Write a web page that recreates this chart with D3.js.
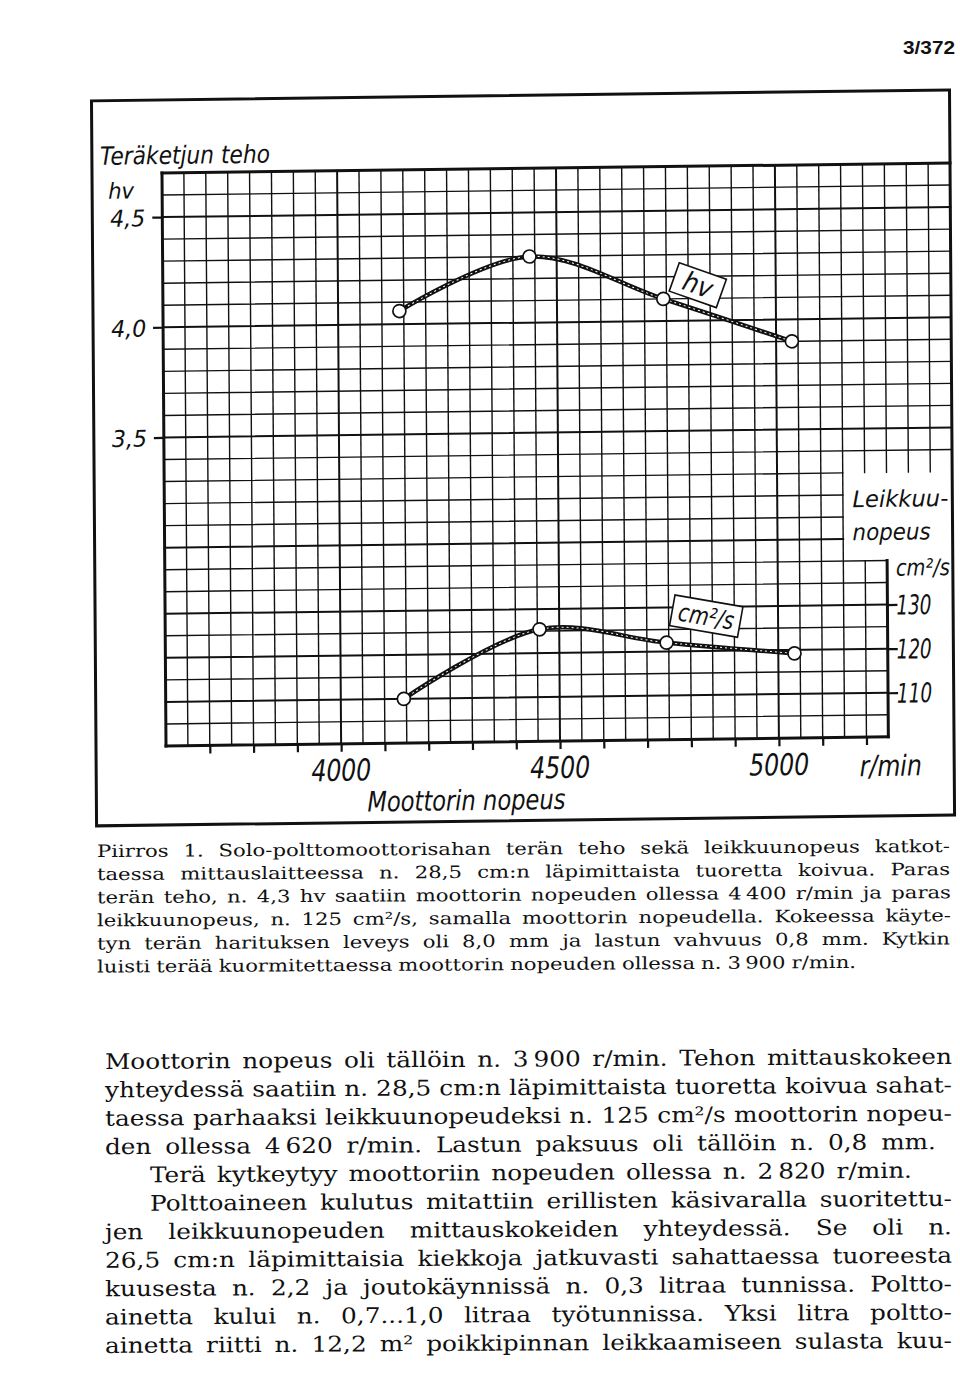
<!DOCTYPE html>
<html><head><meta charset="utf-8">
<script src="https://cdn.jsdelivr.net/npm/d3@7/dist/d3.min.js"></script>
<style>html,body{margin:0;padding:0;background:#fff}svg{display:block}</style>
</head><body>
<svg id="page" width="960" height="1395" viewBox="0 0 960 1395"></svg>
<script>
// ---------------- data ----------------
const rpmHv = [4140, 4438, 4743, 5036];
const hvValues = [4.06, 4.30, 4.10, 3.90];
const rpmCut = [4144, 4455, 4745, 5037];
const cutValues = [110, 125.4, 122, 119.2];
const rpmTicks = [3700, 3800, 3900, 4000, 4100, 4200, 4300, 4400, 4500, 4600, 4700, 4800, 4900, 5000, 5100, 5200];
const rpmLabelValues = [4000, 4500, 5000];
const rpmLabelTexts = ["4000", "4500", "5000"];
const hvTicks = [3.5, 4.0, 4.5];
const hvTickLabels = ["3,5", "4,0", "4,5"];
const cutTicks = [110, 120, 130];
const cutTickLabels = ["110", "120", "130"];
const pageNumber = "3/372";
const captionLines = [
  "Piirros 1. Solo-polttomoottorisahan terän teho sekä leikkuunopeus katkot-",
  "taessa mittauslaitteessa n. 28,5 cm:n läpimittaista tuoretta koivua. Paras",
  "terän teho, n. 4,3 hv saatiin moottorin nopeuden ollessa 4\u2009400 r/min ja paras",
  "leikkuunopeus, n. 125 cm²/s, samalla moottorin nopeudella. Kokeessa käyte-",
  "tyn terän harituksen leveys oli 8,0 mm ja lastun vahvuus 0,8 mm. Kytkin",
  "luisti terää kuormitettaessa moottorin nopeuden ollessa n. 3\u2009900 r/min."
];
const bodyLines = [
  "Moottorin nopeus oli tällöin n. 3\u2009900 r/min. Tehon mittauskokeen",
  "yhteydessä saatiin n. 28,5 cm:n läpimittaista tuoretta koivua sahat-",
  "taessa parhaaksi leikkuunopeudeksi n. 125 cm²/s moottorin nopeu-",
  "den ollessa 4\u2009620 r/min. Lastun paksuus oli tällöin n. 0,8 mm.",
  "Terä kytkeytyy moottoriin nopeuden ollessa n. 2\u2009820 r/min.",
  "Polttoaineen kulutus mitattiin erillisten käsivaralla suoritettu-",
  "jen leikkuunopeuden mittauskokeiden yhteydessä. Se oli n.",
  "26,5 cm:n läpimittaisia kiekkoja jatkuvasti sahattaessa tuoreesta",
  "kuusesta n. 2,2 ja joutokäynnissä n. 0,3 litraa tunnissa. Poltto-",
  "ainetta kului n. 0,7...1,0 litraa työtunnissa. Yksi litra poltto-",
  "ainetta riitti n. 12,2 m² poikkipinnan leikkaamiseen sulasta kuu-"
];

// ---------------- layout ----------------
const svg = d3.select("#page");
svg.append("rect").attr("width", 960).attr("height", 1395).attr("fill", "#fff");

const LETTER = "'DejaVu Sans', 'Liberation Sans', sans-serif";
const INK = "#111";

const x = d3.scaleLinear().domain([3600, 5400]).range([162, 950]);
const yHv = d3.scaleLinear().domain([2.1, 4.7]).range([746, 173]);
const yCut = d3.scaleLinear().domain([100, 230]).range([746, 173]);

const chart = svg.append("g")
  .attr("transform", "translate(162,173) matrix(1,-0.0127,0.007,1,0,0) translate(-162,-173)");

// outer frame
chart.append("rect").attr("x", 92).attr("y", 100).attr("width", 858).attr("height", 725)
  .attr("fill", "none").attr("stroke", INK).attr("stroke-width", 3);

// grid
const grid = chart.append("g").attr("stroke", INK).attr("stroke-linecap", "square");
const cols = d3.range(3650, 5400, 50);
cols.forEach(r => {
  const major = r % 500 === 0;
  const segs = [];
  if (r <= 5150) segs.push([2.1, 4.7]);
  else if (r < 5250) { segs.push([3.3, 4.7]); segs.push([2.1, 2.9]); }
  else segs.push([3.3, 4.7]);
  segs.forEach(s => grid.append("line")
    .attr("x1", x(r)).attr("x2", x(r)).attr("y1", yHv(s[0])).attr("y2", yHv(s[1]))
    .attr("stroke-width", major ? 2 : 1.4));
});
d3.range(22, 47).forEach(i => {
  const hv = i / 10;
  const major = i % 5 === 0 || i === 23 || i === 27;
  let end = 5400;
  if (i <= 29) end = 5250; else if (i <= 33) end = 5150;
  grid.append("line").attr("x1", x(3600)).attr("x2", x(end)).attr("y1", yHv(hv)).attr("y2", yHv(hv))
    .attr("stroke-width", major ? 2 : 1.4);
});
// grid borders
const border = chart.append("g").attr("stroke", INK).attr("stroke-width", 3).attr("stroke-linecap", "square");
border.append("line").attr("x1", x(3600)).attr("x2", x(3600)).attr("y1", yHv(2.1)).attr("y2", yHv(4.7));
border.append("line").attr("x1", x(3600)).attr("x2", x(5400)).attr("y1", yHv(4.7)).attr("y2", yHv(4.7));
border.append("line").attr("x1", x(3600)).attr("x2", x(5250)).attr("y1", yHv(2.1)).attr("y2", yHv(2.1));
border.append("line").attr("x1", x(5250)).attr("x2", x(5250)).attr("y1", yHv(2.1)).attr("y2", yHv(2.9));

// axes (ticks)
function styleAxis(g) {
  g.select(".domain").remove();
  g.selectAll(".tick line").attr("stroke", INK).attr("stroke-width", 2.2);
  g.selectAll(".tick text").remove();
}
chart.append("g").attr("transform", `translate(0,${yHv(2.1)})`)
  .call(d3.axisBottom(x).tickValues(rpmTicks).tickSize(8).tickFormat("")).call(styleAxis);
chart.append("g").attr("transform", `translate(${x(3600)},0)`)
  .call(d3.axisLeft(yHv).tickValues(hvTicks).tickSize(10).tickFormat("")).call(styleAxis);
chart.append("g").attr("transform", `translate(${x(5250)},0)`)
  .call(d3.axisRight(yCut).tickValues(cutTicks).tickSize(10).tickFormat("")).call(styleAxis);

// lettering helper
function letter(g, txt, px, py, size, len, anchor) {
  const t = g.append("text").attr("x", px).attr("y", py)
    .attr("font-family", LETTER).attr("font-style", "italic").attr("font-size", size)
    .attr("fill", INK).attr("text-anchor", anchor || "start").text(txt);
  if (len) t.attr("textLength", len).attr("lengthAdjust", "spacingAndGlyphs");
  return t;
}
letter(chart, "Teräketjun teho", 100, 164, 25, 170);
letter(chart, "hv", 108, 198, 22, 26);
hvTicks.forEach((v, i) => letter(chart, hvTickLabels[i], x(3600) - 17, yHv(v) + 9, 23, 35, "end"));
rpmLabelValues.forEach((v, i) => letter(chart, rpmLabelTexts[i], x(v), yHv(2.1) + 37, 30, 60, "middle"));
letter(chart, "r/min", x(5255), yHv(2.1) + 39, 29, 62, "middle");
letter(chart, "Moottorin nopeus", 462, 814, 28, 198, "middle");
letter(chart, "Leikkuu-", 850, 516, 23, 96);
letter(chart, "nopeus", 850, 549, 23, 78);
letter(chart, "cm²/s", 893, 585, 23, 54);
cutTicks.forEach((v, i) => letter(chart, cutTickLabels[i], x(5250) + 9, yCut(v) + 10, 27, 35));

// curves
function drawCurve(xs, ys, yScale) {
  const pts = xs.map((d, i) => [x(d), yScale(ys[i])]);
  const line = d3.line().curve(d3.curveCatmullRom.alpha(0.5));
  chart.append("path").attr("d", line(pts)).attr("fill", "none").attr("stroke", INK).attr("stroke-width", 4.5);
  chart.append("path").attr("d", line(pts)).attr("fill", "none").attr("stroke", "#fff")
    .attr("stroke-width", 1).attr("stroke-dasharray", "2,3");
  chart.append("g").selectAll("circle").data(pts).join("circle")
    .attr("cx", d => d[0]).attr("cy", d => d[1]).attr("r", 6.5)
    .attr("fill", "#fff").attr("stroke", INK).attr("stroke-width", 1.7);
}
drawCurve(rpmHv, hvValues, yHv);
drawCurve(rpmCut, cutValues, yCut);

// in-plot label boxes
function tagBox(cx, cy, w, h, angle) {
  const g = chart.append("g").attr("transform", `translate(${cx},${cy}) rotate(${angle})`);
  g.append("rect").attr("x", -w / 2).attr("y", -h / 2).attr("width", w).attr("height", h)
    .attr("fill", "#fff").attr("stroke", INK).attr("stroke-width", 1.6);
  return g;
}
const hvBox = tagBox(x(4822), yHv(4.16), 50, 30, 20);
letter(hvBox, "hv", 0, 9, 27, 30, "middle");
const cmBox = tagBox(x(4836), yCut(127.9), 69, 31, 10.5);
letter(cmBox, "cm²/s", 0, 9, 25, 56, "middle");

// page number
svg.append("text").attr("x", 955).attr("y", 54).attr("text-anchor", "end")
  .attr("font-family", "'Liberation Sans', Arial, sans-serif").attr("font-size", 19)
  .attr("font-weight", 600).attr("textLength", 52).attr("lengthAdjust", "spacingAndGlyphs")
  .attr("fill", INK).text(pageNumber);

// justified text blocks: glyphs widened by one common factor, limited so that the
// tightest line still keeps a minimum word gap; then word gaps are spread out.
function block(lines, opts) {
  const g = svg.append("g").attr("transform", opts.transform || null);
  const rows = lines.map((line, i) => {
    const words = line.split(" ");
    const texts = words.map(w => g.append("text").attr("y", opts.y0 + i * opts.lh)
      .attr("font-family", opts.family).attr("font-size", opts.size).attr("fill", INK).text(w));
    const widths = texts.map(t => t.node().getComputedTextLength());
    return { words, texts, widths };
  });
  let factor = opts.maxFactor;
  rows.forEach((r, i) => {
    const avail = opts.ends[i] - opts.starts[i] - (r.words.length - 1) * opts.minGap;
    factor = Math.min(factor, avail / d3.sum(r.widths));
  });
  rows.forEach((r, i) => {
    const widths = r.widths.map(w => w * factor);
    r.texts.forEach((t, k) => t.attr("textLength", widths[k]).attr("lengthAdjust", "spacingAndGlyphs"));
    const sum = d3.sum(widths);
    const xs = opts.starts[i], xe = opts.ends[i];
    const gap = r.words.length > 1 ? (xe - xs - sum) / (r.words.length - 1) : 0;
    let cx = xs;
    r.texts.forEach((t, k) => { t.attr("x", cx); cx += widths[k] + gap; });
  });
}
block(captionLines, {
  y0: 857, lh: 23.1, size: 17, family: "'DejaVu Serif', serif", minGap: 6, maxFactor: 1.25,
  starts: [97, 97, 97, 97, 97, 97], ends: [950, 950, 951, 951, 950, 856],
  transform: "translate(0,0.6) matrix(1,-0.006,0,1,0,0)"
});
block(bodyLines, {
  y0: 1069, lh: 28.4, size: 21.5, family: "'DejaVu Serif', serif", minGap: 8, maxFactor: 1.25,
  starts: [105, 105, 105, 105, 150, 150, 105, 105, 105, 105, 105],
  ends: [952, 952, 952, 936, 912, 952, 952, 952, 952, 952, 952],
  transform: "translate(0,0.6) matrix(1,-0.006,0,1,0,0)"
});
</script>
</body></html>
